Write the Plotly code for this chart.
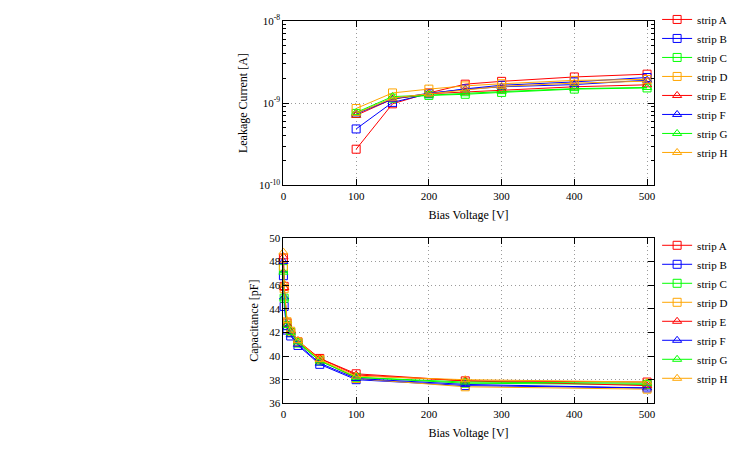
import plotly.graph_objects as go

strips = ["strip A", "strip B", "strip C", "strip D", "strip E", "strip F", "strip G", "strip H"]
colors = ["#ff0000", "#0000ff", "#00ff00", "#ffa500", "#ff0000", "#0000ff", "#00ff00", "#ffa500"]
symbols = ["square-open"] * 4 + ["triangle-up-open"] * 4

# Leakage current (A) vs bias voltage (V)
iv_volt = [100, 150, 200, 250, 300, 400, 500]
iv_A = [2.75e-10, 0.98e-9, 1.33e-9, 1.70e-9, 1.84e-9, 2.08e-9, 2.25e-9]
iv_B = [4.85e-10, 1.02e-9, 1.30e-9, 1.49e-9, 1.65e-9, 1.81e-9, 2.05e-9]
iv_C = [7.5e-10, 1.15e-9, 1.24e-9, 1.28e-9, 1.35e-9, 1.48e-9, 1.53e-9]
iv_D = [8.6e-10, 1.33e-9, 1.48e-9, 1.62e-9, 1.72e-9, 1.89e-9, 1.94e-9]
iv_E = [7.1e-10, 1.12e-9, 1.30e-9, 1.37e-9, 1.45e-9, 1.58e-9, 1.67e-9]
iv_F = [7.4e-10, 1.12e-9, 1.32e-9, 1.47e-9, 1.58e-9, 1.68e-9, 1.90e-9]
iv_G = [7.7e-10, 1.20e-9, 1.25e-9, 1.30e-9, 1.38e-9, 1.50e-9, 1.55e-9]
iv_H = [7.5e-10, 1.15e-9, 1.30e-9, 1.45e-9, 1.60e-9, 1.75e-9, 1.85e-9]
iv_data = [iv_A, iv_B, iv_C, iv_D, iv_E, iv_F, iv_G, iv_H]

# Capacitance (pF) vs bias voltage (V)
cv_volt = [0, 1, 5, 10, 20, 50, 100, 250, 500]
cv_A = [48.3, 45.9, 42.8, 42.0, 41.2, 39.8, 38.5, 37.9, 37.8]
cv_B = [46.8, 44.2, 42.2, 41.7, 40.9, 39.3, 38.0, 37.5, 37.3]
cv_C = [47.4, 44.9, 42.6, 42.0, 41.1, 39.6, 38.2, 37.7, 37.6]
cv_D = [47.6, 45.7, 42.9, 42.1, 41.2, 39.7, 38.1, 37.4, 37.2]
cv_E = [48.4, 45.8, 42.7, 42.1, 41.3, 39.8, 38.4, 37.9, 37.5]
cv_F = [48.0, 45.0, 42.4, 41.8, 41.0, 39.4, 38.1, 37.6, 37.3]
cv_G = [47.1, 44.9, 42.6, 42.0, 41.2, 39.6, 38.2, 37.8, 37.7]
cv_H = [48.8, 46.1, 43.0, 42.2, 41.3, 39.7, 38.3, 38.0, 37.8]
cv_data = [cv_A, cv_B, cv_C, cv_D, cv_E, cv_F, cv_G, cv_H]

x_ticks = [0, 100, 200, 300, 400, 500]
iv_ticks = [1e-10, 1e-9, 1e-8]
iv_ticktext = ["10<sup>-10</sup>", "10<sup>-9</sup>", "10<sup>-8</sup>"]
cv_ticks = [36, 38, 40, 42, 44, 46, 48, 50]

FONT = "Liberation Serif"
GRID = dict(showgrid=True, gridcolor="#9a9a9a", griddash="1px,3px", gridwidth=1)

fig = go.Figure()
for i, name in enumerate(strips):
    fig.add_trace(go.Scatter(
        x=iv_volt, y=iv_data[i], name=name, mode="lines+markers",
        line=dict(color=colors[i], width=1),
        marker=dict(symbol=symbols[i], size=8, color=colors[i], line=dict(width=1, color=colors[i])),
        xaxis="x", yaxis="y", legend="legend", cliponaxis=False))
for i, name in enumerate(strips):
    fig.add_trace(go.Scatter(
        x=cv_volt, y=cv_data[i], name=name, mode="lines+markers",
        line=dict(color=colors[i], width=1),
        marker=dict(symbol=symbols[i], size=8, color=colors[i], line=dict(width=1, color=colors[i])),
        xaxis="x2", yaxis="y2", legend="legend2", cliponaxis=False))

minor_log = [m * 10.0 ** e for e in (-10, -9) for m in range(2, 10)]

common_x = dict(
    range=[0, 509], tickvals=x_ticks, showline=True, linecolor="black", linewidth=1,
    mirror="ticks", ticks="inside", ticklen=6, tickcolor="black",
    zeroline=False, tickfont=dict(family=FONT, size=11, color="black"),
    title=dict(text="Bias Voltage [V]", font=dict(family=FONT, size=12, color="black"), standoff=10),
    **GRID,
)

fig.update_layout(
    width=750, height=450, margin=dict(l=0, r=0, t=0, b=0),
    paper_bgcolor="white", plot_bgcolor="white",
    font=dict(family=FONT, size=12, color="black"),
    xaxis=dict(domain=[0.3764, 0.8733], anchor="y", **common_x),
    yaxis=dict(domain=[0.5933, 0.9704], anchor="x", type="log",
               range=[-10, -8], tickmode="array", tickvals=iv_ticks, ticktext=iv_ticktext,
               showline=True, linecolor="black", linewidth=1, mirror="ticks",
               ticks="inside", ticklen=6, tickcolor="black",
               minor=dict(tickmode="array", tickvals=minor_log, ticks="inside", ticklen=3, tickcolor="black", showgrid=False),
               zeroline=False,
               tickfont=dict(family=FONT, size=11, color="black"),
               title=dict(text="Leakage Current [A]", font=dict(family=FONT, size=12, color="black"), standoff=8),
               **GRID),
    xaxis2=dict(domain=[0.3764, 0.8733], anchor="y2", **common_x),
    yaxis2=dict(domain=[0.0933, 0.4727], anchor="x2", range=[36, 50], tickvals=cv_ticks,
                showline=True, linecolor="black", linewidth=1, mirror="ticks",
                ticks="inside", ticklen=6, tickcolor="black",
                zeroline=False,
                tickfont=dict(family=FONT, size=11, color="black"),
                title=dict(text="Capacitance [pF]", font=dict(family=FONT, size=12, color="black"), standoff=8),
                **GRID),
    legend=dict(x=0.878, y=1.007, xanchor="left", yanchor="top", bgcolor="rgba(0,0,0,0)",
                font=dict(family=FONT, size=11, color="black"), tracegroupgap=0, itemwidth=30),
    legend2=dict(x=0.878, y=0.489, xanchor="left", yanchor="top", bgcolor="rgba(0,0,0,0)",
                 font=dict(family=FONT, size=11, color="black"), tracegroupgap=0, itemwidth=30),
)

fig.write_html("out.html")
